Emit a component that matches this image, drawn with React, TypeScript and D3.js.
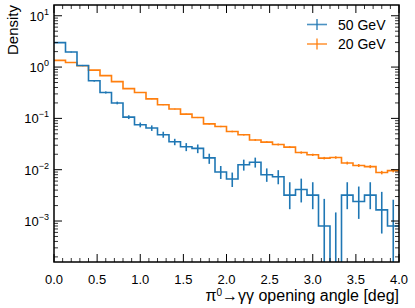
import * as d3 from 'd3';

// histogram binning
const xMin = 0;
const xMax = 4;
const nBins = 30;

// 50 GeV: density per bin, with lower / upper ends of the error bars
const density50 = [3.0, 1.96, 1.07, 0.54, 0.32, 0.2, 0.106, 0.075, 0.065, 0.048, 0.035, 0.028, 0.026, 0.017, 0.009, 0.0066, 0.0125, 0.014, 0.008, 0.0073, 0.0032, 0.0041, 0.0032, 0.0008, 0, 0.0032, 0.0024, 0.0032, 0.00165, 0.0008];
const lo50 = [2.95, 1.92, 1.04, 0.52, 0.305, 0.188, 0.097, 0.067, 0.057, 0.042, 0.03, 0.023, 0.021, 0.013, 0.0066, 0.0046, 0.0096, 0.011, 0.0058, 0.0052, 0.0017, 0.0023, 0.0017, 0.00014, 0, 0.0017, 0.0011, 0.0017, 0.00057, 0.00014];
const hi50 = [3.05, 2.0, 1.1, 0.56, 0.335, 0.212, 0.115, 0.083, 0.073, 0.055, 0.04, 0.033, 0.031, 0.0205, 0.0118, 0.0088, 0.0157, 0.0172, 0.0106, 0.0098, 0.0057, 0.0067, 0.0057, 0.0027, 0.00147, 0.0057, 0.0047, 0.0057, 0.0037, 0.0026];

// 20 GeV: density per bin and its (symmetric) error
const density20 = [1.35, 1.23, 1.06, 0.87, 0.68, 0.52, 0.38, 0.32, 0.24, 0.184, 0.152, 0.121, 0.104, 0.078, 0.0695, 0.0556, 0.048, 0.038, 0.0345, 0.031, 0.0276, 0.0216, 0.0195, 0.0168, 0.0173, 0.0135, 0.0121, 0.0115, 0.0088, 0.0096];
const err20 = [0.01, 0.01, 0.009, 0.008, 0.007, 0.006, 0.005, 0.005, 0.004, 0.0035, 0.003, 0.0028, 0.0026, 0.0022, 0.0021, 0.0019, 0.0017, 0.0015, 0.0014, 0.0013, 0.0012, 0.0011, 0.001, 0.00095, 0.00096, 0.00085, 0.0008, 0.00078, 0.00068, 0.00071];

const seriesNames = ['50 GeV', '20 GeV'];
const seriesColors = ['#1f77b4', '#ff7f0e'];

const xTicks = [0, 0.5, 1, 1.5, 2, 2.5, 3, 3.5, 4];
const xTickLabels = ['0.0', '0.5', '1.0', '1.5', '2.0', '2.5', '3.0', '3.5', '4.0'];
const yDecades = [-3, -2, -1, 0, 1];
const yExpLabels = ['\u22123', '\u22122', '\u22121', '0', '1'];

const font = '"Liberation Sans", Arial, Helvetica, sans-serif';

export default function App() {
  const left = 54, right = 399, top = 5, bottom = 262;

  const x = d3.scaleLinear().domain([xMin, xMax]).range([left, right]);
  const y = d3.scaleLog().domain([1.59e-4, 16.2]).range([bottom, top]);
  const yv = (v: number) => (v > 0 ? y(v) : bottom + 30);

  const edges = d3.range(nBins + 1).map((i) => xMin + (i * (xMax - xMin)) / nBins);
  const centers = d3.range(nBins).map((i) => (edges[i] + edges[i + 1]) / 2);

  const stepLine = (vals: number[]) => {
    const pts: [number, number][] = vals.map((v, i) => [x(edges[i]), yv(v)]);
    pts.push([x(edges[nBins]), yv(vals[nBins - 1])]);
    return d3.line().curve(d3.curveStepAfter)(pts) || '';
  };

  const bars50 = centers.map((c, i) => ({ x: x(c), y1: yv(lo50[i]), y2: yv(hi50[i]) }));
  const bars20 = centers.map((c, i) => ({
    x: x(c),
    y1: yv(density20[i] - err20[i]),
    y2: yv(density20[i] + err20[i]),
  }));

  const xMinor = d3.range(0, 41).map((i) => i / 10).filter((v) => v * 2 !== Math.round(v * 2));
  const yMinor: number[] = [];
  for (let d = -4; d <= 1; d++) {
    for (let k = 2; k <= 9; k++) {
      const v = k * Math.pow(10, d);
      if (v > 1.59e-4 && v < 16.2) yMinor.push(v);
    }
  }

  const majorLen = 8;
  const minorLen = 4;

  return (
    <svg
      width={415}
      height={308}
      style={{ position: 'fixed', left: 0, top: 0, background: '#fff' }}
      fontFamily={font}
    >
      <defs>
        <clipPath id="plot">
          <rect x={left} y={top} width={right - left} height={bottom - top} />
        </clipPath>
      </defs>

      <g clipPath="url(#plot)" fill="none" strokeWidth={1.6}>
        <path d={stepLine(density20)} stroke={seriesColors[1]} />
        {bars20.map((b, i) => (
          <line key={'e20' + i} x1={b.x} x2={b.x} y1={b.y1} y2={b.y2} stroke={seriesColors[1]} />
        ))}
        <path d={stepLine(density50)} stroke={seriesColors[0]} />
        {bars50.map((b, i) => (
          <line key={'e50' + i} x1={b.x} x2={b.x} y1={b.y1} y2={b.y2} stroke={seriesColors[0]} />
        ))}
      </g>

      {/* ticks, inward on all four sides */}
      <g stroke="#000">
        {xTicks.map((t) => (
          <g key={'xt' + t} strokeWidth={1}>
            <line x1={x(t)} x2={x(t)} y1={bottom} y2={bottom - majorLen} />
            <line x1={x(t)} x2={x(t)} y1={top} y2={top + majorLen} />
          </g>
        ))}
        {xMinor.map((t) => (
          <g key={'xm' + t} strokeWidth={0.8}>
            <line x1={x(t)} x2={x(t)} y1={bottom} y2={bottom - minorLen} />
            <line x1={x(t)} x2={x(t)} y1={top} y2={top + minorLen} />
          </g>
        ))}
        {yDecades.map((d) => (
          <g key={'yt' + d} strokeWidth={1}>
            <line x1={left} x2={left + majorLen} y1={y(Math.pow(10, d))} y2={y(Math.pow(10, d))} />
            <line x1={right} x2={right - majorLen} y1={y(Math.pow(10, d))} y2={y(Math.pow(10, d))} />
          </g>
        ))}
        {yMinor.map((v, i) => (
          <g key={'ym' + i} strokeWidth={0.8}>
            <line x1={left} x2={left + minorLen} y1={y(v)} y2={y(v)} />
            <line x1={right} x2={right - minorLen} y1={y(v)} y2={y(v)} />
          </g>
        ))}
      </g>

      <rect x={left} y={top} width={right - left} height={bottom - top} fill="none" stroke="#000" strokeWidth={1.5} />

      {/* x tick labels */}
      {xTicks.map((t, i) => (
        <text key={'xl' + t} x={x(t)} y={bottom + 22} textAnchor="middle" fontSize={13}>
          {xTickLabels[i]}
        </text>
      ))}

      {/* y tick labels */}
      {yDecades.map((d, i) => (
        <text key={'yl' + d} x={left - 5} y={y(Math.pow(10, d)) + 5} textAnchor="end" fontSize={13}>
          10
          <tspan fontSize={9} dy={-6}>
            {yExpLabels[i]}
          </tspan>
        </text>
      ))}

      {/* axis labels */}
      <text x={right} y={bottom + 39} textAnchor="end" fontSize={16}>
        π<tspan fontSize={10} dy={-5}>0</tspan>
        <tspan dy={5}>→γγ opening angle [deg]</tspan>
      </text>
      <text transform={`translate(18,${top}) rotate(-90)`} textAnchor="end" fontSize={15}>
        Density
      </text>

      {/* legend */}
      {seriesNames.map((name, i) => {
        const cy = 24.5 + i * 19.5;
        return (
          <g key={name}>
            <line x1={307} x2={327} y1={cy} y2={cy} stroke={seriesColors[i]} strokeWidth={1.6} opacity={0.8} />
            <line x1={317} x2={317} y1={cy - 5.5} y2={cy + 5.5} stroke={seriesColors[i]} strokeWidth={1.6} opacity={0.8} />
            <text x={338} y={cy + 5} fontSize={14}>
              {name}
            </text>
          </g>
        );
      })}
    </svg>
  );
}
